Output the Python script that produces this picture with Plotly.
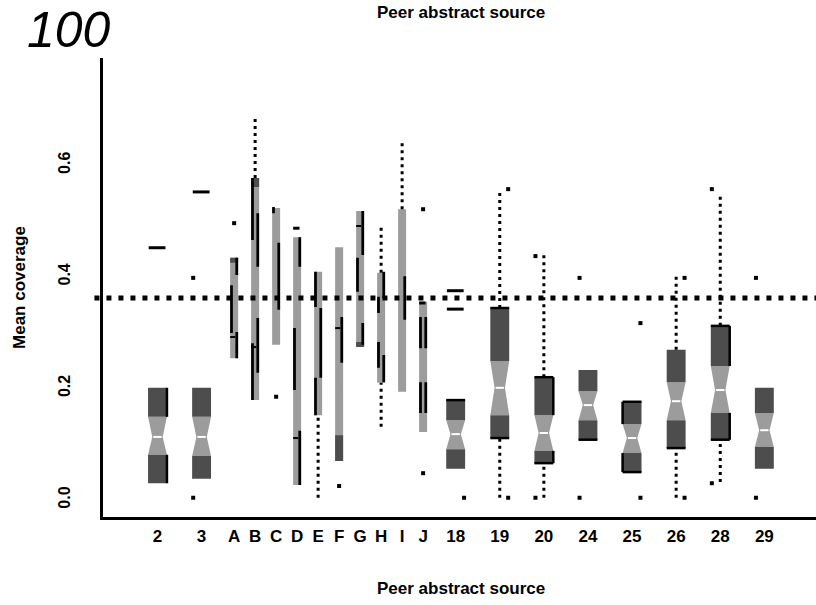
import plotly.graph_objects as go

# ---- sources in axis order -------------------------------------------------
NUMERIC_LEFT = ["2", "3"]
LETTERS = ["A", "B", "C", "D", "E", "F", "G", "H", "I", "J"]
NUMERIC_RIGHT = ["18", "19", "20", "24", "25", "26", "28", "29"]

# ---- notched-box summaries for the numbered sources ------------------------
BOX_SOURCES = ["2", "3", "18", "19", "20", "24", "25", "26", "28", "29"]
BOX_Q1 = [0.030, 0.038, 0.056, 0.111, 0.066, 0.108, 0.050, 0.093, 0.108, 0.056]
BOX_Q3 = [0.201, 0.201, 0.179, 0.344, 0.220, 0.233, 0.176, 0.269, 0.312, 0.201]
BOX_MEDIAN = [0.113, 0.113, 0.118, 0.201, 0.120, 0.170, 0.111, 0.177, 0.197, 0.125]
BOX_NOTCH_LO = [0.081, 0.079, 0.091, 0.152, 0.088, 0.143, 0.084, 0.143, 0.156, 0.095]
BOX_NOTCH_HI = [0.149, 0.149, 0.143, 0.249, 0.152, 0.195, 0.136, 0.211, 0.240, 0.156]
BOX_WHISKER_HI = [None, None, None, 0.550, 0.439, None, None, 0.401, 0.550, None]
BOX_WHISKER_LO = [None, None, None, 0.004, 0.004, None, None, 0.004, 0.032, None]
BOX_CAPS = [[0.452], [0.552], [0.375, 0.342], [], [], [], [], [], [], []]
BOX_OUTLIERS = [[], [0.398, 0.004], [0.004], [0.557, 0.004], [0.437, 0.004],
                [0.398, 0.004], [0.317, 0.004], [0.398, 0.004], [0.557, 0.030],
                [0.398, 0.004]]

# ---- thin range bars for the lettered sources ------------------------------
BAR_LO = [0.254, 0.179, 0.278, 0.027, 0.152, 0.070, 0.274, 0.210, 0.194, 0.122]
BAR_HI = [0.434, 0.577, 0.523, 0.471, 0.409, 0.453, 0.518, 0.407, 0.521, 0.355]
BAR_DARK = [[(0.425, 0.434)], [(0.561, 0.577)], [], [], [], [(0.070, 0.116)],
            [(0.274, 0.283)], [], [], []]
BAR_BLACK_LEFT = [
    [(0.299, 0.385)],
    [(0.466, 0.577), (0.179, 0.281)],
    [(0.514, 0.525)],
    [(0.197, 0.308)],
    [(0.346, 0.409), (0.152, 0.219)],
    [],
    [(0.373, 0.434)],
    [(0.335, 0.364), (0.237, 0.283)],
    [],
    [(0.272, 0.328), (0.156, 0.211)],
]
BAR_BLACK_RIGHT = [
    [(0.403, 0.434), (0.254, 0.301)],
    [(0.418, 0.514), (0.228, 0.326)],
    [(0.341, 0.461)],
    [(0.418, 0.471), (0.027, 0.124)],
    [(0.219, 0.344)],
    [(0.246, 0.328)],
    [(0.439, 0.518), (0.278, 0.317)],
    [(0.362, 0.409), (0.211, 0.260)],
    [(0.323, 0.401)],
    [(0.272, 0.328), (0.156, 0.211)],
]
BAR_WHISKER_HI = [None, 0.686, None, None, None, None, None, 0.493, 0.640, None]
BAR_WHISKER_LO = [None, None, None, None, 0.004, None, None, 0.131, None, None]
BAR_TICKS = [[0.292], [0.274], [], [0.111], [], [0.308], [0.491], [], [], []]
BAR_CAPS = [[], [], [], [0.487], [], [], [], [], [], [0.353]]
BAR_OUTLIERS = [[0.496], [], [0.185], [], [], [0.025], [], [], [], [0.521, 0.048]]

REFERENCE_LEVEL = 0.362

# ---- styling ---------------------------------------------------------------
DARK = "#4d4d4d"
LIGHT = "#9c9c9c"
BOX_W = 0.9
WAIST = 0.55
BAR_W = 0.38
STRIPE_W = 0.13
OUTLIER_SIDE = {"3": -1, "18": 1, "19": 1, "20": -1, "24": -1,
                "25": 1, "26": 1, "28": -1, "29": -1}
BOX_EDGES = {"2": "r", "3": "", "18": "t", "19": "tb", "20": "trb", "24": "b",
             "25": "ltb", "26": "b", "28": "trb", "29": ""}
FONT = "Liberation Sans"

# numbered sources take a wide slot, letters a narrow one
order = NUMERIC_LEFT + LETTERS + NUMERIC_RIGHT
slot = [1.0 if s in LETTERS else 2.1 for s in order]
pos = {}
acc = 0.0
for i, s in enumerate(order):
    if i:
        acc += (slot[i - 1] + slot[i]) / 2
    pos[s] = acc


def rect(xs, ys, x0, x1, y0, y1):
    xs += [x0, x1, x1, x0, x0, None]
    ys += [y0, y0, y1, y1, y0, None]


def seg(xs, ys, x0, y0, x1, y1):
    xs += [x0, x1, None]
    ys += [y0, y1, None]


dark_x, dark_y = [], []
light_x, light_y = [], []
black_x, black_y = [], []
med_x, med_y = [], []
edge_x, edge_y = [], []
whisk_x, whisk_y = [], []
cap_x, cap_y = [], []
tick_x, tick_y = [], []
pt_x, pt_y = [], []

# numbered sources: dark IQR box with a light notched waist
for i, s in enumerate(BOX_SOURCES):
    p = pos[s]
    h = BOX_W / 2
    q1, q3, md = BOX_Q1[i], BOX_Q3[i], BOX_MEDIAN[i]
    nlo, nhi = BOX_NOTCH_LO[i], BOX_NOTCH_HI[i]
    rect(dark_x, dark_y, p - h, p + h, nhi, q3)
    rect(dark_x, dark_y, p - h, p + h, q1, nlo)
    light_x += [p - h, p + h, p + h * WAIST, p + h, p - h, p - h * WAIST, p - h, None]
    light_y += [nhi, nhi, md, nlo, nlo, md, nhi, None]
    seg(med_x, med_y, p - h * WAIST * 0.8, md, p + h * WAIST * 0.8, md)
    edges = BOX_EDGES[s]
    if "t" in edges:
        seg(edge_x, edge_y, p - h, q3, p + h, q3)
    if "b" in edges:
        seg(edge_x, edge_y, p - h, q1, p + h, q1)
    for side, key in ((1, "r"), (-1, "l")):
        if key in edges:
            seg(edge_x, edge_y, p + side * h, q3, p + side * h, nhi)
            seg(edge_x, edge_y, p + side * h, nlo, p + side * h, q1)
    if BOX_WHISKER_HI[i] is not None:
        seg(whisk_x, whisk_y, p, q3, p, BOX_WHISKER_HI[i])
    if BOX_WHISKER_LO[i] is not None:
        seg(whisk_x, whisk_y, p, BOX_WHISKER_LO[i], p, q1)
    for v in BOX_CAPS[i]:
        seg(cap_x, cap_y, p - 0.42, v, p + 0.38, v)
    for v in BOX_OUTLIERS[i]:
        pt_x.append(p + OUTLIER_SIDE.get(s, 0) * 0.4)
        pt_y.append(v)

# lettered sources: narrow light bar with dark caps and black stripes
for i, s in enumerate(LETTERS):
    p = pos[s]
    h = BAR_W / 2
    rect(light_x, light_y, p - h, p + h, BAR_LO[i], BAR_HI[i])
    for lo, hi in BAR_DARK[i]:
        rect(dark_x, dark_y, p - h, p + h, lo, hi)
    for lo, hi in BAR_BLACK_LEFT[i]:
        rect(black_x, black_y, p - h, p - h + STRIPE_W, lo, hi)
    for lo, hi in BAR_BLACK_RIGHT[i]:
        rect(black_x, black_y, p + h - STRIPE_W, p + h, lo, hi)
    if BAR_WHISKER_HI[i] is not None:
        seg(whisk_x, whisk_y, p, BAR_HI[i], p, BAR_WHISKER_HI[i])
    if BAR_WHISKER_LO[i] is not None:
        seg(whisk_x, whisk_y, p, BAR_WHISKER_LO[i], p, BAR_LO[i])
    for v in BAR_TICKS[i]:
        seg(tick_x, tick_y, p - h, v, p + h * 0.3, v)
    for v in BAR_CAPS[i]:
        seg(cap_x, cap_y, p - h, v, p + h * 0.6, v)
    for v in BAR_OUTLIERS[i]:
        pt_x.append(p)
        pt_y.append(v)

fig = go.Figure()


def filled(xs, ys, color):
    fig.add_trace(go.Scatter(x=xs, y=ys, mode="lines", fill="toself",
                             fillcolor=color, line=dict(width=0, color=color),
                             hoverinfo="skip", showlegend=False))


def lines(xs, ys, color, width, dash="solid"):
    fig.add_trace(go.Scatter(x=xs, y=ys, mode="lines",
                             line=dict(color=color, width=width, dash=dash),
                             hoverinfo="skip", showlegend=False))


filled(light_x, light_y, LIGHT)
filled(dark_x, dark_y, DARK)
filled(black_x, black_y, "black")
lines(med_x, med_y, "white", 2)
lines(edge_x, edge_y, "black", 2.5)
lines(whisk_x, whisk_y, "black", 3, "3px,4px")
lines(cap_x, cap_y, "black", 3)
lines(tick_x, tick_y, "black", 2)
fig.add_trace(go.Scatter(x=pt_x, y=pt_y, mode="markers",
                         marker=dict(symbol="square", size=4, color="black"),
                         hoverinfo="skip", showlegend=False))

# dotted reference level across the whole plot
fig.add_shape(type="line", xref="paper", yref="y", x0=-0.012, x1=1,
              y0=REFERENCE_LEVEL, y1=REFERENCE_LEVEL,
              line=dict(color="black", width=5, dash="5px,7px"))

fig.update_layout(
    width=816, height=605,
    margin=dict(l=103, r=0, t=58, b=88),
    plot_bgcolor="white", paper_bgcolor="white",
    showlegend=False,
    xaxis=dict(range=[-2.595, 31.36], showgrid=False, zeroline=False,
               showline=True, linecolor="black", linewidth=3,
               tickmode="array", tickvals=[pos[s] for s in order],
               ticktext=order, ticks="",
               tickfont=dict(family=FONT, size=17, color="black", weight="bold"),
               ticklabelstandoff=2),
    yaxis=dict(range=[-0.0305, 0.792], showgrid=False, zeroline=False,
               showline=True, linecolor="black", linewidth=3,
               tickmode="array", tickvals=[0, 0.2, 0.4, 0.6],
               ticktext=["0.0", "0.2", "0.4", "0.6"], ticks="",
               tickangle=-90,
               tickfont=dict(family=FONT, size=16, color="black", weight="bold"),
               ticklabelstandoff=24),
    annotations=[
        dict(text="Peer abstract source", xref="paper", yref="paper",
             x=0.502, y=1.099, xanchor="center", yanchor="middle",
             showarrow=False,
             font=dict(family=FONT, size=17, color="black", weight="bold")),
        dict(text="Peer abstract source", xref="paper", yref="paper",
             x=0.502, y=-0.1547, xanchor="center", yanchor="middle",
             showarrow=False,
             font=dict(family=FONT, size=17, color="black", weight="bold")),
        dict(text="Mean coverage", xref="paper", yref="paper",
             x=-0.1164, y=0.499, xanchor="center", yanchor="middle",
             textangle=-90, showarrow=False,
             font=dict(family=FONT, size=17, color="black", weight="bold")),
        dict(text="100", xref="paper", yref="paper",
             x=-0.0477, y=1.061, xanchor="center", yanchor="middle",
             showarrow=False,
             font=dict(family=FONT, size=50, color="black", style="italic")),
    ],
)

fig.write_html("out.html")
